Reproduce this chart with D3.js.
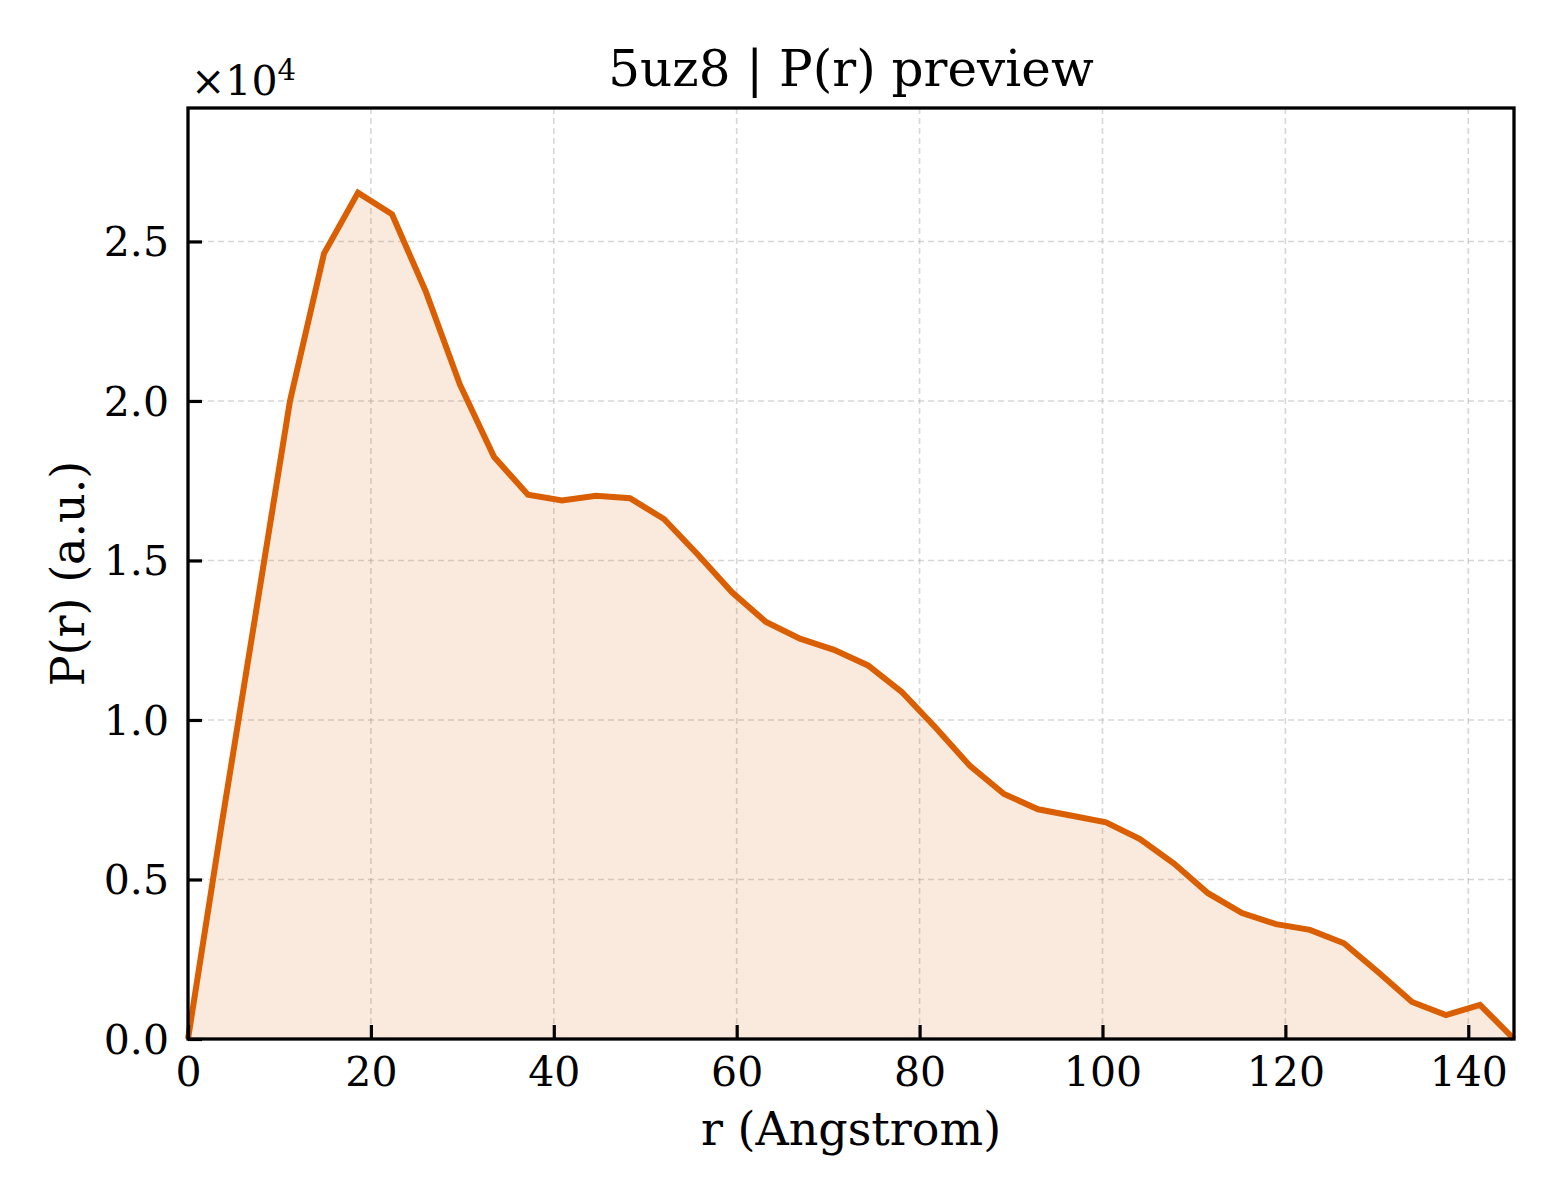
<!DOCTYPE html>
<html>
<head>
<meta charset="utf-8">
<script src="https://cdn.jsdelivr.net/npm/d3@7"></script>
<style>
	body { margin: 0; background: #fff; }
	svg text { font-family: "DejaVu Serif", serif; fill: #000; }
	.grid line { stroke: #b0b0b0; stroke-opacity: 0.5; stroke-dasharray: 6 4; stroke-width: 1.6; }
	.axis path { display: none; }
	.axis line { stroke: #000; stroke-width: 3.2; }
	.axis text { font-size: 41px; }
</style>
</head>
<body>
<div id="graphic"></div>
<script>
// r in Angstrom
const rValues = [0, 3.72, 7.44, 11.15, 14.87, 18.59, 22.31, 26.03, 29.74, 33.46,
	37.18, 40.9, 44.62, 48.33, 52.05, 55.77, 59.49, 63.21, 66.92, 70.64,
	74.36, 78.08, 81.79, 85.51, 89.23, 92.95, 96.67, 100.38, 104.1, 107.82,
	111.54, 115.26, 118.97, 122.69, 126.41, 130.13, 133.85, 137.56, 141.28, 145];

// P(r), arbitrary units
const prValues = [0, 6800, 13400, 20000, 24620, 26530, 25850, 23410, 20510, 18250,
	17060, 16880, 17030, 16950, 16300, 15180, 14000, 13070, 12550, 12200,
	11710, 10870, 9750, 8560, 7680, 7200, 7000, 6790, 6270, 5500,
	4570, 3950, 3600, 3420, 3000, 2100, 1160, 750, 1070, 0];

const xTicks = [0, 20, 40, 60, 80, 100, 120, 140];
const yTicks = [0, 5000, 10000, 15000, 20000, 25000];

const data = rValues.map((r, i) => ({ r: r, p: prValues[i] }));

const width = 1560, height = 1200;
const margin = { top: 108, right: 46, bottom: 161, left: 188 };
const chartWidth = width - margin.left - margin.right;
const chartHeight = height - margin.top - margin.bottom;

const svg = d3.select('#graphic')
	.append('svg')
	.attr('width', width)
	.attr('height', height);

const g = svg.append('g')
	.attr('transform', `translate(${margin.left},${margin.top})`);

const x = d3.scaleLinear()
	.domain([0, d3.max(rValues)])
	.range([0, chartWidth]);

// matplotlib-ish auto limit: 10% headroom
const y = d3.scaleLinear()
	.domain([0, d3.max(prValues) * 1.1])
	.range([chartHeight, 0]);

// grid
g.append('g')
	.attr('class', 'grid')
	.selectAll('line.v')
	.data(xTicks)
	.join('line')
	.attr('x1', d => x(d)).attr('x2', d => x(d))
	.attr('y1', 0).attr('y2', chartHeight);

g.append('g')
	.attr('class', 'grid')
	.selectAll('line.h')
	.data(yTicks)
	.join('line')
	.attr('x1', 0).attr('x2', chartWidth)
	.attr('y1', d => y(d)).attr('y2', d => y(d));

// area + line
g.append('path')
	.datum(data)
	.attr('fill', '#d95f02')
	.attr('fill-opacity', 0.13)
	.attr('d', d3.area().x(d => x(d.r)).y0(y(0)).y1(d => y(d.p)));

g.append('path')
	.datum(data)
	.attr('fill', 'none')
	.attr('stroke', '#d95f02')
	.attr('stroke-width', 6)
	.attr('stroke-linejoin', 'miter')
	.attr('d', d3.line().x(d => x(d.r)).y(d => y(d.p)));

// axes with inward ticks
g.append('g')
	.attr('class', 'x axis')
	.attr('transform', `translate(0,${chartHeight})`)
	.call(d3.axisBottom(x).tickValues(xTicks).tickSize(-14).tickPadding(17).tickFormat(d3.format('d')))
	.selectAll('text').attr('dy', '0.73em');

g.append('g')
	.attr('class', 'y axis')
	.call(d3.axisLeft(y).tickValues(yTicks).tickSize(-14).tickPadding(19).tickFormat(d => (d / 1e4).toFixed(1)))
	.selectAll('text').attr('dy', '0.35em');

// frame
g.append('rect')
	.attr('width', chartWidth)
	.attr('height', chartHeight)
	.attr('fill', 'none')
	.attr('stroke', '#000')
	.attr('stroke-width', 3.3);

// offset text
const off = svg.append('text')
	.attr('x', margin.left + 3)
	.attr('y', 95)
	.style('font-size', '41px');
off.append('tspan').text('×10');
off.append('tspan').attr('dy', -15).style('font-size', '29px').text('4');

// title
svg.append('text')
	.attr('x', margin.left + chartWidth / 2)
	.attr('y', 86)
	.attr('text-anchor', 'middle')
	.style('font-size', '50px')
	.text('5uz8 | P(r) preview');

// axis labels
svg.append('text')
	.attr('x', margin.left + chartWidth / 2)
	.attr('y', 1145)
	.attr('text-anchor', 'middle')
	.style('font-size', '46px')
	.text('r (Angstrom)');

svg.append('text')
	.attr('transform', `translate(84,${margin.top + chartHeight / 2}) rotate(-90)`)
	.attr('text-anchor', 'middle')
	.style('font-size', '46px')
	.text('P(r) (a.u.)');
</script>
</body>
</html>
